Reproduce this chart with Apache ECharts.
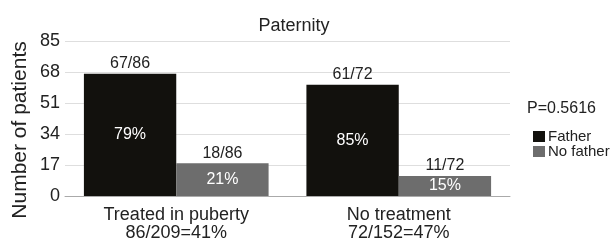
<!DOCTYPE html>
<html><head><meta charset="utf-8">
<script src="https://cdn.jsdelivr.net/npm/echarts@6/dist/echarts.min.js"></script>
<style>html,body{margin:0;padding:0;background:#fff}#c{width:611px;height:242px}</style>
</head><body><div id="c"></div>
<script>
const categories = ['Treated in puberty\n86/209=41%', 'No treatment\n72/152=47%'];
const fatherValues = [67, 61];
const noFatherValues = [18, 11];
const fatherFractions = ['67/86', '61/72'];
const noFatherFractions = ['18/86', '11/72'];
const fatherPercents = ['79%', '85%'];
const noFatherPercents = ['21%', '15%'];
const yTicks = [0, 17, 34, 51, 68, 85];

const FONT = '"Liberation Sans", Arial, Helvetica, sans-serif';
const chart = echarts.init(document.getElementById('c'));
const gap = '17%';
chart.setOption({
  animation: false,
  textStyle: { fontFamily: FONT },
  title: { text: 'Paternity', left: 289, top: 12, textAlign: 'center',
    textStyle: { fontSize: 18, fontWeight: 'normal', color: '#222', fontFamily: FONT } },
  legend: { orient: 'vertical', left: 528, top: 124, itemWidth: 12, itemHeight: 11, itemGap: 0,
    icon: 'rect', data: ['Father', 'No father'],
    textStyle: { fontSize: 15, lineHeight: 14, color: '#222', padding: [0, 0, 0, -2], fontFamily: FONT } },
  graphic: [
    { type: 'text', left: 527, top: 101, style: { text: 'P=0.5616', fill: '#222', font: '16px ' + FONT } },
    { type: 'text', x: 20, y: 130, rotation: Math.PI / 2,
      style: { text: 'Number of patients', fill: '#222', font: '21px ' + FONT, align: 'center', verticalAlign: 'middle' } }
  ],
  grid: { left: 65, right: 101, top: 41, bottom: 43 },
  xAxis: [
    { type: 'category', data: categories, axisTick: { show: false },
      axisLine: { lineStyle: { color: '#aaa', width: 1 } },
      axisLabel: { fontSize: 18, color: '#222', lineHeight: 18, margin: 10, fontFamily: FONT } },
    { type: 'category', data: categories, show: false }
  ],
  yAxis: { type: 'value', min: yTicks[0], max: yTicks[yTicks.length - 1], interval: 17,
    axisLine: { show: false }, axisTick: { show: false },
    axisLabel: { fontSize: 18, color: '#222', margin: 5, fontFamily: FONT },
    splitLine: { lineStyle: { color: '#dedede' } } },
  series: [
    { name: 'Father', type: 'bar', data: fatherValues, barGap: 0, barCategoryGap: gap,
      itemStyle: { color: '#12110d' },
      label: { show: true, position: 'top', distance: 2, fontSize: 16, color: '#222',
        formatter: p => fatherFractions[p.dataIndex] } },
    { name: 'No father', type: 'bar', data: noFatherValues, barGap: 0, barCategoryGap: gap,
      itemStyle: { color: '#6d6d6d' },
      label: { show: true, position: 'top', distance: 2, fontSize: 16, color: '#222',
        formatter: p => noFatherFractions[p.dataIndex] } },
    { name: 'FatherPct', type: 'bar', xAxisIndex: 1, data: fatherValues, barGap: 0, barCategoryGap: gap,
      itemStyle: { color: 'transparent' }, silent: true,
      label: { show: true, position: 'inside', fontSize: 16, color: '#fff',
        formatter: p => fatherPercents[p.dataIndex] } },
    { name: 'NoFatherPct', type: 'bar', xAxisIndex: 1, data: noFatherValues, barGap: 0, barCategoryGap: gap,
      itemStyle: { color: 'transparent' }, silent: true,
      label: { show: true, position: 'inside', fontSize: 16, color: '#fff',
        formatter: p => noFatherPercents[p.dataIndex] } }
  ]
});
</script></body></html>
